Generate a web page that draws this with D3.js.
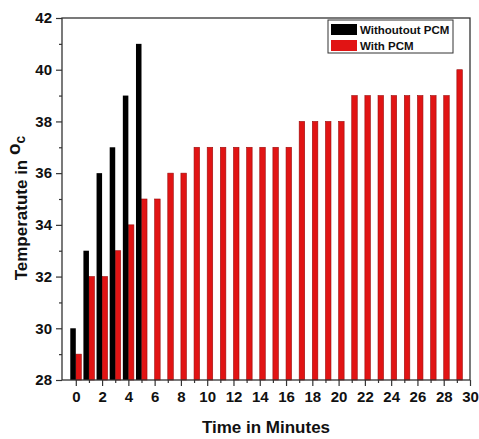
<!DOCTYPE html>
<html><head><meta charset="utf-8">
<script src="https://cdn.jsdelivr.net/npm/d3@7"></script>
<style>body{margin:0;background:#fff}svg{display:block;font-family:Arial,"Liberation Sans",sans-serif}</style>
</head><body>
<svg id="c" width="479" height="439"></svg>
<script>
const minutesWithout = [0,1,2,3,4,5];
const tempWithout = [30,33,36,37,39,41];
const minutesWith = [0,1,2,3,4,5,6,7,8,9,10,11,12,13,14,15,16,17,18,19,20,21,22,23,24,25,26,27,28,29];
const tempWith = [29,32,32,33,34,35,35,36,36,37,37,37,37,37,37,37,37,38,38,38,38,39,39,39,39,39,39,39,39,40];
const xTicks = [0,2,4,6,8,10,12,14,16,18,20,22,24,26,28,30];
const yTicks = [28,30,32,34,36,38,40,42];
const seriesNames = ["Withoutout PCM","With PCM"];

const svg = d3.select("#c");
const L=62,R=470,T=18,B=380;
const x = d3.scaleLinear().domain([-1.05,30]).range([L,R]);
const y = d3.scaleLinear().domain([28,42]).range([B,T]);
const bw = 0.42;

// bars
svg.append("g").selectAll("rect").data(minutesWith.map((m,i)=>({m,v:tempWith[i]}))).join("rect")
  .attr("x",d=>x(d.m)).attr("width",x(bw)-x(0))
  .attr("y",d=>y(d.v)).attr("height",d=>y(28)-y(d.v))
  .attr("fill","#e11414").attr("stroke","#9a0c0c").attr("stroke-width",0.6);
svg.append("g").selectAll("rect").data(minutesWithout.map((m,i)=>({m,v:tempWithout[i]}))).join("rect")
  .attr("x",d=>x(d.m-bw)).attr("width",x(bw)-x(0))
  .attr("y",d=>y(d.v)).attr("height",d=>y(28)-y(d.v))
  .attr("fill","#000");

// frame
svg.append("rect").attr("x",L).attr("y",T).attr("width",R-L).attr("height",B-T)
  .attr("fill","none").attr("stroke","#333").attr("stroke-width",1.3);

// axes
const xa = svg.append("g").attr("transform",`translate(0,${B})`)
  .call(d3.axisBottom(x).tickValues(xTicks).tickSize(6).tickPadding(5).tickFormat(d3.format("d")));
const xm = svg.append("g").attr("transform",`translate(0,${B})`)
  .call(d3.axisBottom(x).tickValues(d3.range(1,30,2)).tickSize(3).tickFormat(""));
const ya = svg.append("g").attr("transform",`translate(${L},0)`)
  .call(d3.axisLeft(y).tickValues(yTicks).tickSize(6).tickPadding(4).tickFormat(d3.format("d")));
const ym = svg.append("g").attr("transform",`translate(${L},0)`)
  .call(d3.axisLeft(y).tickValues(d3.range(29,42,2)).tickSize(3).tickFormat(""));
[xa,xm,ya,ym].forEach(g=>{g.select(".domain").remove();g.selectAll("line").attr("stroke","#333").attr("stroke-width",1.2);});
[xa,ya].forEach(g=>g.selectAll("text").attr("font-size",15).attr("font-weight","bold").attr("fill","#111"));

// axis titles
svg.append("text").attr("x",266).attr("y",433).attr("text-anchor","middle")
  .attr("font-size",17).attr("font-weight","bold").attr("fill","#111").text("Time in Minutes");
const yt = svg.append("text").attr("transform","translate(27,208) rotate(-90)").attr("text-anchor","middle")
  .attr("font-size",17).attr("font-weight","bold").attr("fill","#111");
yt.append("tspan").text("Temperatute in ");
yt.append("tspan").attr("dy",-7).attr("font-size",19).text("o");
yt.append("tspan").attr("dy",5).attr("font-size",14).text("c");

// legend
const lg = svg.append("g");
lg.append("rect").attr("x",328).attr("y",20).attr("width",125).attr("height",33)
  .attr("fill","#fff").attr("stroke","#333").attr("stroke-width",1);
const cols=["#000","#e11414"];
seriesNames.forEach((n,i)=>{
  lg.append("rect").attr("x",331).attr("y",24+i*16).attr("width",26).attr("height",11).attr("fill",cols[i]);
  lg.append("text").attr("x",360).attr("y",34+i*16).attr("font-size",11.5).attr("font-weight","bold").attr("fill","#111").text(n);
});
</script>
</body></html>
